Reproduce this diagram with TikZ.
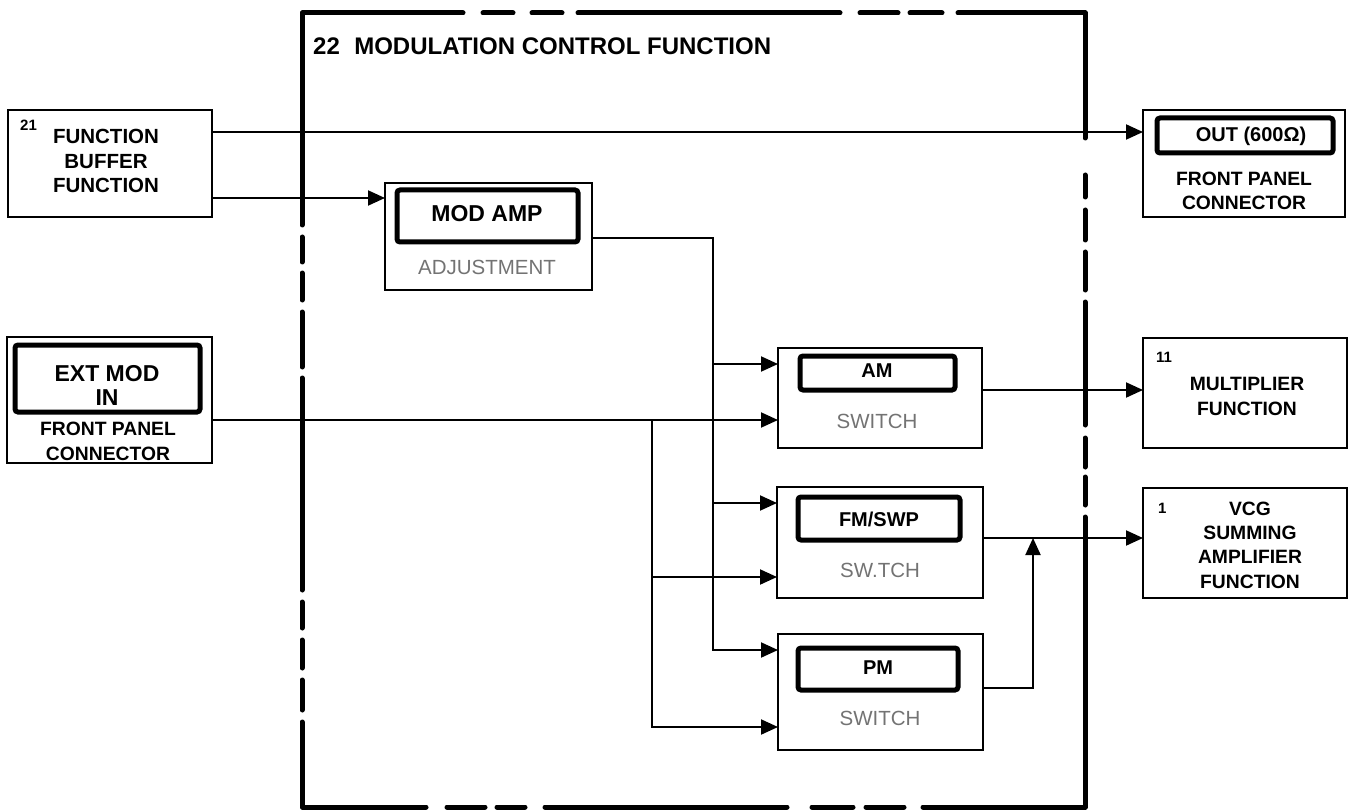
\documentclass[tikz,border=0pt]{standalone}
\usepackage{fontspec}
\setmainfont{Liberation Sans}
\usetikzlibrary{arrows.meta}
\begin{document}
\begin{tikzpicture}[x=1pt,y=-1pt,
  box/.style={draw, line width=2pt, inner sep=0pt, outer sep=0pt, rectangle},
  ibox/.style={draw, line width=5pt, rounded corners=3pt, inner sep=0pt, outer sep=0pt, rectangle},
  lbl/.style={font=\fontsize{19.3}{24.3}\selectfont\bfseries, align=center, inner sep=0pt},
  ilbl/.style={font=\fontsize{20}{24}\selectfont\bfseries, inner sep=0pt},
  bigl/.style={font=\fontsize{23}{24}\selectfont\bfseries, align=center, inner sep=0pt},
  lite/.style={font=\fontsize{20.5}{23}\selectfont, text=black!55, inner sep=0pt},
  num/.style={font=\fontsize{15}{18}\selectfont\bfseries, inner sep=0pt},
  wire/.style={line width=2pt},
  arr/.style={wire, -{Triangle[length=17pt,width=15pt]}},
  border/.style={line width=5pt, line cap=round, line join=round}
]
\useasboundingbox (0,0) rectangle (1351,810);

% dashed function border
\draw[border] (302,225) -- (302,13) -- (463,13);
\foreach \a/\b in {483/513, 532/562, 578/840, 860/898, 910/942} \draw[border] (\a,13) -- (\b,13);
\draw[border] (958,13) -- (1085,13) -- (1085,138);
\foreach \a/\b in {175/197, 210/240, 252/290, 302/425, 438/467, 477/505} \draw[border] (1085,\a) -- (1085,\b);
\draw[border] (1085,517) -- (1085,807) -- (923,807);
\foreach \a/\b in {866/904, 812/853, 545/787, 497/525, 447/485} \draw[border] (\a,807) -- (\b,807);
\draw[border] (426,807) -- (302,807) -- (302,722);
\foreach \a/\b in {237/262, 273/300, 312/367, 378/590, 602/628, 640/668, 680/710} \draw[border] (302,\a) -- (302,\b);

\node[font=\fontsize{24}{28}\selectfont\bfseries, anchor=west, inner sep=0pt] (title) at (313,46) {22\hspace{0.6em}MODULATION CONTROL FUNCTION};

% boxes
\node[box, minimum width=204pt, minimum height=107pt] (fb) at (110,163.5) {};
\node[num, anchor=west] (fbn) at (20,125) {21};
\node[lbl, font=\fontsize{20.5}{24.5}\selectfont\bfseries] (fbt) at (106,161) {FUNCTION\\BUFFER\\FUNCTION};

\node[box, minimum width=202pt, minimum height=107pt] (out) at (1244,163.5) {};
\node[ibox, minimum width=176pt, minimum height=35pt] (outi) at (1245,135.5) {};
\node[ilbl] (outt) at (1251,136) {OUT (600Ω)};
\node[lbl] (outc) at (1244,191) {FRONT PANEL\\CONNECTOR};

\node[box, minimum width=207pt, minimum height=107pt] (modamp) at (488.5,236.5) {};
\node[ibox, minimum width=181pt, minimum height=52pt] (modampi) at (487.5,216) {};
\node[bigl] (modampt) at (487,214) {MOD AMP};
\node[lite] (modampl) at (487,267) {ADJUSTMENT};

\node[box, minimum width=205pt, minimum height=126pt] (extmod) at (109.5,400) {};
\node[ibox, minimum width=185pt, minimum height=67pt] (extmodi) at (107.5,378.5) {};
\node[bigl] (extmodt) at (107,385) {EXT MOD\\IN};
\node[lbl] (extmodc) at (108,441.5) {FRONT PANEL\\CONNECTOR};

\node[box, minimum width=204pt, minimum height=100pt] (am) at (880,398) {};
\node[ibox, minimum width=155pt, minimum height=34pt] (ami) at (877.5,373) {};
\node[ilbl] (amt) at (877,371) {AM};
\node[lite] (aml) at (877,421) {SWITCH};

\node[box, minimum width=206pt, minimum height=111pt] (fm) at (880,542.5) {};
\node[ibox, minimum width=162pt, minimum height=43pt] (fmi) at (879,518.5) {};
\node[ilbl] (fmt) at (879,519) {FM/SWP};
\node[lite] (fml) at (880,570) {SW.TCH};

\node[box, minimum width=205pt, minimum height=116pt] (pm) at (880.5,692) {};
\node[ibox, minimum width=160pt, minimum height=42pt] (pmi) at (878,669) {};
\node[ilbl] (pmt) at (878,668) {PM};
\node[lite] (pml) at (880,718) {SWITCH};

\node[box, minimum width=204pt, minimum height=110pt] (mult) at (1245,393) {};
\node[num, anchor=west] (multn) at (1156,357) {11};
\node[lbl] (multt) at (1247,396.5) {MULTIPLIER\\FUNCTION};

\node[box, minimum width=204pt, minimum height=110pt] (vcg) at (1245,543) {};
\node[num, anchor=west] (vcgn) at (1158,508) {1};
\node[lbl] (vcgt) at (1250,545) {VCG\\SUMMING\\AMPLIFIER\\FUNCTION};

% reference coordinates for wire levels
\coordinate (yA) at (0,132);
\coordinate (yB) at (0,198);
\coordinate (yC) at (0,238);
\coordinate (xM) at (713,0);
\coordinate (xE) at (652,0);
\coordinate (xJ) at (1033,0);
\coordinate (yAMu) at (0,364);
\coordinate (yAMl) at (0,420);
\coordinate (yFMu) at (0,503);
\coordinate (yFMl) at (0,577);
\coordinate (yPMu) at (0,650);
\coordinate (yPMl) at (0,727);
\coordinate (yAMo) at (0,390);
\coordinate (yFMo) at (0,538);
\coordinate (yPMo) at (0,688);

% wires
\draw[arr] (fb.east |- yA) -- (out.west |- yA);
\draw[arr] (fb.east |- yB) -- (modamp.west |- yB);
\draw[arr] (modamp.east |- yC) -- (xM |- yC) -- (xM |- yPMu) -- (pm.west |- yPMu);
\draw[arr] (xM |- yAMu) -- (am.west |- yAMu);
\draw[arr] (xM |- yFMu) -- (fm.west |- yFMu);
\draw[arr] (extmod.east |- yAMl) -- (am.west |- yAMl);
\draw[arr] (xE |- yAMl) -- (xE |- yPMl) -- (pm.west |- yPMl);
\draw[arr] (xE |- yFMl) -- (fm.west |- yFMl);
\draw[arr] (am.east |- yAMo) -- (mult.west |- yAMo);
\draw[arr] (fm.east |- yFMo) -- (vcg.west |- yFMo);
\draw[arr] (pm.east |- yPMo) -- (xJ |- yPMo) -- (xJ |- yFMo);
\end{tikzpicture}
\end{document}
